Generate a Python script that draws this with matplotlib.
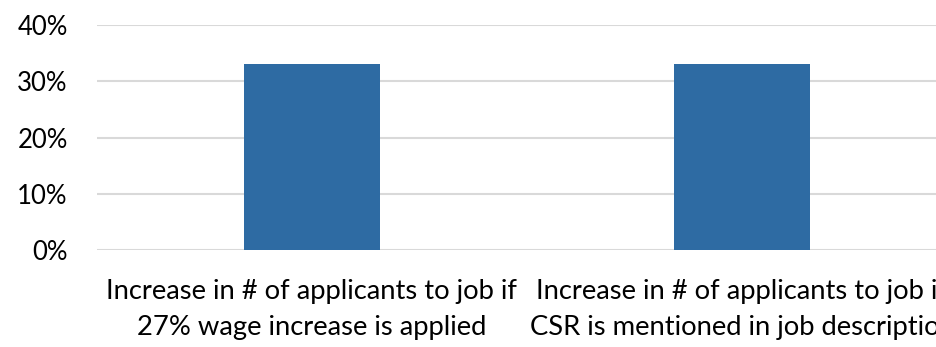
import matplotlib.pyplot as plt

categories = [
    "Increase in # of applicants to job if\n27% wage increase is applied",
    "Increase in # of applicants to job if\nCSR is mentioned in job description",
]
values = [0.33, 0.33]
yticks = [0.0, 0.1, 0.2, 0.3, 0.4]

plt.rcParams["font.family"] = ["Lato", "DejaVu Sans"]

fig = plt.figure(figsize=(9.36, 3.47), dpi=100)
ax = fig.add_axes([97 / 936, 97 / 347, 860 / 936, 225 / 347])

x = range(len(categories))
ax.bar(x, values, width=0.314, color="#2e6ba3", zorder=3)

ax.set_xlim(-0.5, 1.5)
ax.set_ylim(0, 0.4)
ax.set_yticks(yticks)
ax.set_yticklabels([f"{int(round(v * 100))}%" for v in yticks], fontsize=18.5)
ax.set_xticks(list(x))
ax.set_xticklabels(categories, fontsize=19.7, linespacing=1.55)
ax.tick_params(length=0)
ax.tick_params(axis="x", pad=21)
ax.tick_params(axis="y", pad=21)
ax.yaxis.grid(True, color="#d9d9d9", linewidth=1.5, zorder=0)
for s in ax.spines.values():
    s.set_visible(False)

fig.savefig("out.png", dpi=100)
